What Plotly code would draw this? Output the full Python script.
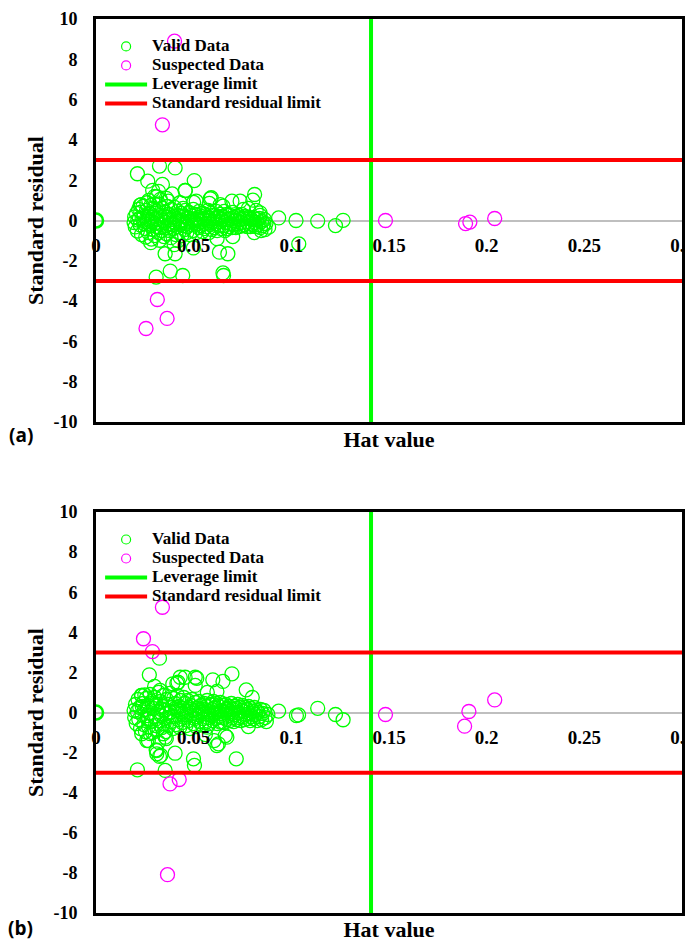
import plotly.graph_objects as go

# ---------------- data ----------------
leverage_limit = 0.1408
residual_limit = 3
hat_range = [0, 0.3000001]
res_range = [-10, 10]
x_ticks = [0, 0.05, 0.1, 0.15, 0.2, 0.25, 0.3]
x_tick_labels = ["0", "0.05", "0.1", "0.15", "0.2", "0.25", "0.3"]
y_ticks = [-10, -8, -6, -4, -2, 0, 2, 4, 6, 8, 10]
y_tick_labels = ["-10", "-8", "-6", "-4", "-2", "0", "2", "4", "6", "8", "10"]

valid_a_hat = [
    0.0000, 0.0212, 0.0325, 0.0405, 0.0265, 0.0503, 0.0340, 0.0320,
    0.0458, 0.0390, 0.0590, 0.0812, 0.0803, 0.0696, 0.0738, 0.0232,
    0.0636, 0.0840, 0.0935, 0.1024, 0.1135, 0.1226, 0.1265, 0.0884,
    0.0354, 0.0405, 0.0499, 0.0632, 0.0675, 0.1038, 0.0308, 0.0380,
    0.0444, 0.0650, 0.0653, 0.0290, 0.0456, 0.0755, 0.0840, 0.0860,
    0.0195, 0.0198, 0.0201, 0.0207, 0.0212, 0.0214, 0.0218, 0.0226,
    0.0229, 0.0233, 0.0236, 0.0240, 0.0247, 0.0251, 0.0255, 0.0258,
    0.0262, 0.0268, 0.0271, 0.0274, 0.0277, 0.0281, 0.0284, 0.0289,
    0.0292, 0.0295, 0.0298, 0.0301, 0.0304, 0.0309, 0.0312, 0.0316,
    0.0319, 0.0322, 0.0326, 0.0330, 0.0333, 0.0337, 0.0341, 0.0344,
    0.0348, 0.0351, 0.0355, 0.0358, 0.0362, 0.0366, 0.0369, 0.0373,
    0.0376, 0.0380, 0.0384, 0.0387, 0.0391, 0.0395, 0.0398, 0.0402,
    0.0405, 0.0409, 0.0413, 0.0417, 0.0420, 0.0424, 0.0428, 0.0431,
    0.0435, 0.0439, 0.0442, 0.0446, 0.0450, 0.0454, 0.0457, 0.0461,
    0.0465, 0.0468, 0.0472, 0.0476, 0.0480, 0.0483, 0.0487, 0.0491,
    0.0495, 0.0498, 0.0502, 0.0506, 0.0510, 0.0513, 0.0517, 0.0521,
    0.0525, 0.0528, 0.0532, 0.0536, 0.0540, 0.0544, 0.0547, 0.0551,
    0.0555, 0.0559, 0.0562, 0.0566, 0.0570, 0.0574, 0.0578, 0.0581,
    0.0585, 0.0589, 0.0593, 0.0597, 0.0600, 0.0604, 0.0608, 0.0612,
    0.0616, 0.0620, 0.0624, 0.0628, 0.0632, 0.0636, 0.0640, 0.0644,
    0.0648, 0.0652, 0.0656, 0.0660, 0.0664, 0.0668, 0.0672, 0.0676,
    0.0680, 0.0684, 0.0688, 0.0692, 0.0696, 0.0700, 0.0704, 0.0708,
    0.0712, 0.0716, 0.0720, 0.0725, 0.0729, 0.0733, 0.0738, 0.0742,
    0.0746, 0.0751, 0.0755, 0.0760, 0.0764, 0.0769, 0.0773, 0.0778,
    0.0782, 0.0787, 0.0791, 0.0796, 0.0800, 0.0806, 0.0812, 0.0818,
    0.0824, 0.0830, 0.0836, 0.0842, 0.0848, 0.0855, 0.0862, 0.0870,
    0.0222, 0.0245, 0.0265, 0.0286, 0.0306, 0.0328, 0.0353, 0.0378,
    0.0400, 0.0422, 0.0448, 0.0470, 0.0493, 0.0520, 0.0550, 0.0580,
    0.0270, 0.0300, 0.0360, 0.0280, 0.0420, 0.0500, 0.0580, 0.0620,
    0.0700, 0.0780, 0.0820, 0.0810, 0.0845, 0.0865, 0.0400, 0.0330,
    0.0226, 0.0260, 0.0310, 0.0370, 0.0430, 0.0513, 0.0585, 0.0650,
]
valid_a_res = [
    0.00, 2.32, 2.70, 2.61, 1.95, 1.98, 1.79, 1.45,
    1.49, 1.32, 1.13, 1.29, 1.01, 0.96, 0.96, 0.79,
    0.79, 0.25, 0.13, 0.00, -0.03, -0.25, 0.01, -0.33,
    -1.65, -1.65, -1.36, -1.57, -1.65, -1.16, -2.81, -2.51,
    -2.73, -2.60, -2.73, 1.50, 1.49, 0.55, 0.38, -0.15,
    -0.10, 0.18, -0.32, 0.35, -0.52, 0.02, 0.55, -0.22,
    0.42, -0.70, 0.12, 0.70, 0.22, -0.40, -0.82, 0.50,
    -0.05, -0.60, 0.02, 0.35, -0.25, 0.75, -0.92, 0.15,
    -0.45, 0.60, -0.15, -0.75, 0.35, -0.30, 0.45, 0.05,
    -0.60, 0.82, -0.98, 0.25, -0.20, -0.50, 0.60, 0.00,
    -0.80, -0.10, 0.40, -0.65, 0.15, 0.70, -0.35, 0.30,
    -0.50, 0.05, -0.85, 0.55, -0.20, -0.40, 0.20, 0.65,
    -0.10, -0.70, 0.10, -0.30, 0.45, -0.60, -0.05, -0.20,
    0.35, -0.75, 0.00, 0.60, 0.20, -0.45, 0.50, -0.15,
    -0.60, -0.30, 0.10, 0.40, -0.70, -0.05, 0.25, -0.20,
    -0.50, 0.55, 0.00, -0.10, 0.30, -0.60, 0.05, 0.15,
    -0.35, 0.45, -0.05, -0.25, 0.20, -0.55, 0.35, 0.05,
    -0.40, 0.30, -0.15, -0.30, 0.15, 0.50, -0.60, 0.10,
    -0.20, 0.35, -0.45, -0.05, 0.25, -0.35, 0.10, -0.15,
    0.45, -0.50, 0.20, -0.25, -0.05, 0.30, -0.40, 0.05,
    0.20, -0.25, 0.45, -0.50, -0.10, 0.30, -0.40, 0.05,
    -0.30, 0.25, -0.15, 0.10, -0.35, 0.40, -0.20, 0.15,
    0.00, -0.35, 0.20, -0.15, 0.25, -0.30, 0.05, -0.10,
    0.30, -0.25, 0.10, -0.20, 0.20, -0.05, -0.30, 0.15,
    -0.15, 0.10, -0.30, 0.05, -0.20, 0.15, -0.10, -0.30,
    0.05, -0.20, 0.10, -0.35, -0.05, -0.25, 0.05, -0.15,
    0.10, -0.15, 0.28, -0.05, 0.10, -0.35, 0.22, -0.15,
    0.05, 0.25, -0.25, 0.15, 0.05, -0.15, 0.10, 0.00,
    1.00, 1.20, 1.10, -1.10, -1.00, 0.90, 0.85, -0.90,
    -0.80, 0.60, 0.50, -0.60, -0.50, -0.45, -1.20, 1.05,
    0.76, 0.88, 1.18, 0.96, 0.88, 0.96, 1.08, 0.71,
]
suspect_a_hat = [0.0402, 0.0340, 0.0314, 0.0256, 0.0364, 0.1482, 0.1892, 0.1914, 0.2041]
suspect_a_res = [8.90, 4.75, -3.92, -5.36, -4.86, 0.00, -0.15, -0.08, 0.10]

valid_b_hat = [
    0.0000, 0.0273, 0.0325, 0.0431, 0.0414, 0.0508, 0.0508, 0.0598,
    0.0650, 0.0696, 0.0619, 0.0769, 0.0393, 0.0328, 0.0234, 0.0935,
    0.1026, 0.1037, 0.1135, 0.1226, 0.1265, 0.0268, 0.0311, 0.0325,
    0.0405, 0.0308, 0.0499, 0.0504, 0.0718, 0.0212, 0.0354, 0.0619,
    0.0662, 0.0568, 0.0636, 0.0234, 0.0345, 0.0277, 0.0360, 0.0560,
    0.0516, 0.0420, 0.0456, 0.0250, 0.0627, 0.0605, 0.0260, 0.0320,
    0.0354, 0.0670, 0.0332, 0.0310, 0.0800, 0.0780, 0.0570, 0.0300,
    0.0195, 0.0198, 0.0202, 0.0206, 0.0211, 0.0215, 0.0219, 0.0224,
    0.0228, 0.0232, 0.0236, 0.0240, 0.0245, 0.0249, 0.0253, 0.0257,
    0.0261, 0.0265, 0.0269, 0.0273, 0.0277, 0.0281, 0.0285, 0.0289,
    0.0293, 0.0297, 0.0301, 0.0305, 0.0309, 0.0313, 0.0317, 0.0321,
    0.0325, 0.0329, 0.0333, 0.0337, 0.0341, 0.0345, 0.0349, 0.0353,
    0.0357, 0.0361, 0.0365, 0.0369, 0.0373, 0.0377, 0.0381, 0.0385,
    0.0389, 0.0393, 0.0397, 0.0401, 0.0405, 0.0409, 0.0413, 0.0417,
    0.0421, 0.0425, 0.0429, 0.0433, 0.0437, 0.0441, 0.0445, 0.0449,
    0.0453, 0.0457, 0.0461, 0.0465, 0.0469, 0.0473, 0.0477, 0.0481,
    0.0485, 0.0489, 0.0493, 0.0497, 0.0501, 0.0505, 0.0509, 0.0513,
    0.0517, 0.0521, 0.0525, 0.0529, 0.0533, 0.0537, 0.0541, 0.0545,
    0.0549, 0.0553, 0.0557, 0.0561, 0.0565, 0.0569, 0.0573, 0.0577,
    0.0581, 0.0585, 0.0589, 0.0593, 0.0597, 0.0601, 0.0605, 0.0609,
    0.0613, 0.0617, 0.0621, 0.0625, 0.0629, 0.0633, 0.0637, 0.0641,
    0.0645, 0.0649, 0.0653, 0.0657, 0.0661, 0.0665, 0.0669, 0.0673,
    0.0677, 0.0681, 0.0685, 0.0689, 0.0693, 0.0697, 0.0701, 0.0705,
    0.0709, 0.0713, 0.0717, 0.0721, 0.0725, 0.0729, 0.0733, 0.0737,
    0.0741, 0.0745, 0.0749, 0.0753, 0.0757, 0.0761, 0.0765, 0.0769,
    0.0773, 0.0777, 0.0781, 0.0785, 0.0789, 0.0793, 0.0797, 0.0801,
    0.0806, 0.0811, 0.0816, 0.0821, 0.0826, 0.0831, 0.0836, 0.0842,
    0.0848, 0.0854, 0.0860, 0.0866, 0.0872, 0.0880, 0.0237, 0.0262,
    0.0287, 0.0310, 0.0336, 0.0360, 0.0387, 0.0410, 0.0436, 0.0462,
    0.0490, 0.0515, 0.0545, 0.0575, 0.0605, 0.0635, 0.0665, 0.0695,
]
valid_b_res = [
    0.00, 1.88, 2.71, 1.76, 1.46, 1.76, 1.35, 1.63,
    1.55, 1.93, 1.05, 1.13, 1.43, 1.10, 0.85, 0.07,
    -0.15, -0.12, 0.21, -0.10, -0.36, -1.40, -2.06, -2.19,
    -2.03, -1.86, -2.31, -2.64, -2.31, -2.86, -2.89, -1.65,
    -1.15, -0.73, -0.48, -1.06, -1.06, -1.05, -1.30, -1.10,
    1.71, 1.51, 1.76, 0.88, -1.56, -1.40, -1.40, -1.48,
    -1.23, -1.23, -2.14, -1.90, 0.75, -0.70, 1.00, 1.30,
    0.10, -0.25, 0.40, -0.55, 0.05, 0.65, -0.35, 0.25,
    -0.80, 0.85, -0.10, 0.45, -0.60, 0.15, -0.95, 0.70,
    -0.30, 0.35, -0.70, 0.00, 0.90, -0.45, 0.55, -1.00,
    0.20, -0.20, 0.75, -0.65, 0.40, -0.85, 0.05, 1.00,
    -0.40, 0.55, -0.15, -0.75, 0.30, 0.85, -0.55, 0.10,
    -0.95, 0.65, -0.25, 0.40, -0.65, 0.95, 0.00, -0.45,
    0.25, -0.80, 0.70, -0.20, 0.45, -0.60, 0.10, 0.85,
    -0.35, 0.30, -0.75, 0.60, -0.05, -0.50, 0.20, 0.75,
    -0.25, 0.45, -0.65, 0.05, 0.60, -0.40, 0.25, -0.80,
    0.35, -0.15, 0.65, -0.55, 0.10, -0.30, 0.50, -0.70,
    0.20, -0.10, 0.55, -0.45, 0.00, 0.35, -0.60, 0.15,
    -0.30, 0.45, -0.05, -0.50, 0.30, 0.60, -0.25, 0.05,
    -0.55, 0.40, -0.15, 0.15, -0.40, 0.55, -0.05, 0.25,
    -0.30, 0.45, -0.55, 0.05, 0.30, -0.20, 0.50, -0.45,
    0.10, -0.25, 0.35, -0.50, 0.00, 0.40, -0.35, 0.20,
    -0.15, 0.30, -0.40, 0.05, 0.45, -0.25, 0.15, -0.45,
    0.30, -0.10, 0.20, -0.35, 0.40, 0.00, -0.25, 0.25,
    -0.40, 0.10, 0.35, -0.20, 0.05, -0.35, 0.25, -0.10,
    0.15, -0.30, 0.30, -0.05, -0.40, 0.20, -0.20, 0.05,
    -0.30, 0.25, -0.10, 0.10, -0.40, 0.00, -0.20, 0.15,
    -0.35, -0.05, 0.10, -0.25, -0.45, -0.10, 0.30, -0.15,
    0.45, -0.30, 0.15, -0.05, -0.20, 0.25, 0.05, -0.10,
    0.15, -0.20, 0.05, -0.10, 0.20, -0.05, 0.15, -0.05,
]
suspect_b_hat = [0.0243, 0.0289, 0.0340, 0.0379, 0.0426, 0.0366, 0.1482, 0.1887, 0.1909, 0.2041]
suspect_b_res = [3.68, 3.04, 5.25, -3.56, -3.34, -8.09, -0.10, -0.68, 0.05, 0.63]

assert len(valid_a_hat) == len(valid_a_res)
assert len(valid_b_hat) == len(valid_b_res)

legend_names = ["Valid Data", "Suspected Data", "Leverage limit", "Standard residual limit"]

# ---------------- style ----------------
GREEN = "#00ff00"
MAGENTA = "#ff00ff"
RED = "#ff0000"
SERIF = "Liberation Serif"


def lg(t):
    return f"<span style='font-size:17px'>{t}</span>"


fig = go.Figure()

panels = [
    dict(xa="x", ya="y", xt="x3", leg="legend",
         vh=valid_a_hat, vr=valid_a_res, sh=suspect_a_hat, sr=suspect_a_res),
    dict(xa="x2", ya="y2", xt="x4", leg="legend2",
         vh=valid_b_hat, vr=valid_b_res, sh=suspect_b_hat, sr=suspect_b_res),
]

for p in panels:
    widths = [2.6 if (h == 0 and r == 0) else 1.3 for h, r in zip(p["vh"], p["vr"])]
    fig.add_trace(go.Scatter(
        x=p["vh"], y=p["vr"], mode="markers", showlegend=False,
        marker=dict(symbol="circle-open", size=14, color=GREEN, line=dict(width=widths)),
        xaxis=p["xa"], yaxis=p["ya"], hoverinfo="skip"))
    fig.add_trace(go.Scatter(
        x=p["sh"], y=p["sr"], mode="markers", showlegend=False,
        marker=dict(symbol="circle-open", size=14, color=MAGENTA, line=dict(width=1.3)),
        xaxis=p["xa"], yaxis=p["ya"], hoverinfo="skip"))
    fig.add_trace(go.Scatter(
        x=[leverage_limit, leverage_limit], y=res_range, mode="lines", showlegend=False,
        line=dict(color=GREEN, width=4), xaxis=p["xt"], yaxis=p["ya"], hoverinfo="skip"))
    fig.add_trace(go.Scatter(
        x=[0, 0.3, None, 0, 0.3],
        y=[residual_limit, residual_limit, None, -residual_limit, -residual_limit],
        mode="lines", showlegend=False, line=dict(color=RED, width=4),
        xaxis=p["xt"], yaxis=p["ya"], hoverinfo="skip"))
    # legend entries
    fig.add_trace(go.Scatter(x=[None], y=[None], mode="markers", name=lg(legend_names[0]),
                             marker=dict(symbol="circle-open", size=9, color=GREEN, line=dict(width=1.2)),
                             legend=p["leg"], xaxis=p["xa"], yaxis=p["ya"]))
    fig.add_trace(go.Scatter(x=[None], y=[None], mode="markers", name=lg(legend_names[1]),
                             marker=dict(symbol="circle-open", size=9, color=MAGENTA, line=dict(width=1.2)),
                             legend=p["leg"], xaxis=p["xa"], yaxis=p["ya"]))
    fig.add_trace(go.Scatter(x=[None], y=[None], mode="lines", name=lg(legend_names[2]),
                             line=dict(color=GREEN, width=4), legend=p["leg"],
                             xaxis=p["xa"], yaxis=p["ya"]))
    fig.add_trace(go.Scatter(x=[None], y=[None], mode="lines", name=lg(legend_names[3]),
                             line=dict(color=RED, width=4), legend=p["leg"],
                             xaxis=p["xa"], yaxis=p["ya"]))

tickfont_y = dict(family=SERIF, size=18, color="black", weight="bold")
tickfont_x = dict(family=SERIF, size=19, color="black", weight="bold")
titlefont = dict(family=SERIF, size=22, color="black", weight="bold")

dom_a = [0.5492, 1.0]
dom_b = [0.0, 0.4485]


def main_x(anchor):
    return dict(domain=[0, 1], anchor=anchor, range=hat_range, showticklabels=False,
                ticks="", showgrid=False, showline=True, linecolor="black", linewidth=3,
                mirror=True, zeroline=True, zerolinecolor="#a6a6a6", zerolinewidth=3,
                title=dict(text="Hat value", font=titlefont, standoff=8), automargin=False)


def main_y(anchor, dom):
    return dict(domain=dom, anchor=anchor, range=res_range, tickvals=y_ticks,
                ticktext=y_tick_labels,
                tickfont=tickfont_y, ticks="", ticklabelstandoff=12, showgrid=False,
                showline=True, linecolor="black", linewidth=3, mirror=True,
                zeroline=True, zerolinecolor="#bfbfbf", zerolinewidth=1.5,
                title=dict(text="Standard residual", font=titlefont, standoff=4),
                automargin=False)


def label_x(over, dom):
    return dict(overlaying=over, anchor="free", position=dom[0] + (dom[1] - dom[0]) / 2,
                range=hat_range, tickvals=x_ticks, ticktext=x_tick_labels,
                tickfont=tickfont_x, ticks="", ticklabeloverflow="allow",
                ticklabelstandoff=11, showgrid=False, showline=False, zeroline=False,
                side="bottom", automargin=False)


legend_common = dict(bgcolor="rgba(0,0,0,0)", borderwidth=0,
                     font=dict(family=SERIF, size=12, color="black", weight="bold"),
                     itemwidth=42, tracegroupgap=0, xanchor="left", yanchor="top",
                     itemclick=False, itemdoubleclick=False)

# the page adds an 8px body margin: the figure is sized so that it fills the window
fig.update_layout(
    width=685, height=934,
    margin=dict(l=88, r=11, t=11, b=29),
    paper_bgcolor="white", plot_bgcolor="white",
    showlegend=True,
    xaxis=main_x("y"), yaxis=main_y("x", dom_a),
    xaxis2=main_x("y2"), yaxis2=main_y("x2", dom_b),
    xaxis3=label_x("x", dom_a), xaxis4=label_x("x2", dom_b),
    legend=dict(x=0.007, y=0.9855, **legend_common),
    legend2=dict(x=0.007, y=0.434, **legend_common),
    annotations=[
        dict(text="(a)", xref="paper", yref="paper", x=-0.128, y=0.5347,
             showarrow=False, xanchor="center", yanchor="middle",
             font=dict(family="Open Sans", size=19, color="black", weight="bold")),
        dict(text="(b)", xref="paper", yref="paper", x=-0.128, y=-0.0168,
             showarrow=False, xanchor="center", yanchor="middle",
             font=dict(family="Open Sans", size=19, color="black", weight="bold")),
    ],
)

fig.write_html("out.html")
